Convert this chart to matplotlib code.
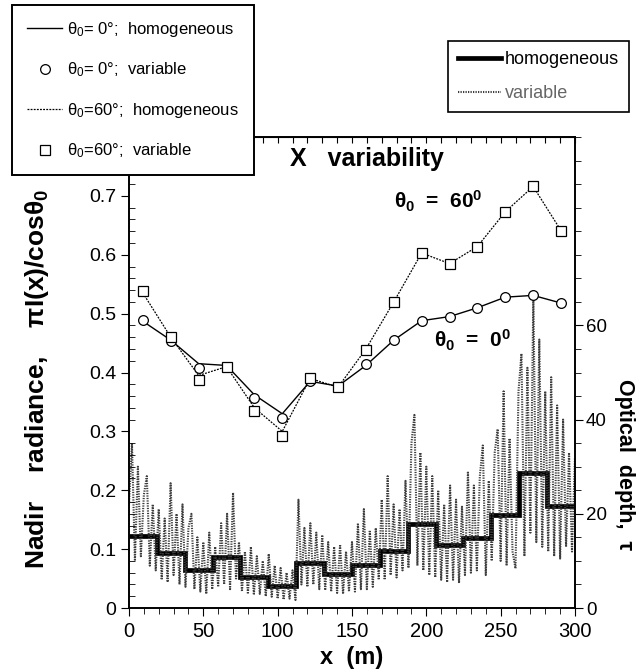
import numpy as np
import matplotlib
matplotlib.use('Agg')
import matplotlib.pyplot as plt

plt.rcParams['font.family'] = ['Liberation Sans', 'DejaVu Sans']
plt.rcParams['mathtext.fontset'] = 'custom'
plt.rcParams['mathtext.rm'] = 'Liberation Sans'
plt.rcParams['mathtext.it'] = 'Liberation Sans:italic'
plt.rcParams['mathtext.bf'] = 'Liberation Sans:bold'

# 16 cells of 18.75 m
x_edges = np.arange(0, 300.1, 18.75)
x_cell = np.arange(9.375, 300, 18.75)

# nadir radiance (left axis)
rad0_var = [0.489, 0.453, 0.407, 0.409, 0.357, 0.323, 0.386, 0.375,
            0.414, 0.455, 0.488, 0.494, 0.509, 0.528, 0.531, 0.518]
rad0_hom = [0.487, 0.455, 0.415, 0.412, 0.362, 0.330, 0.385, 0.377,
            0.412, 0.455, 0.488, 0.495, 0.510, 0.528, 0.531, 0.518]
rad60_var = [0.539, 0.461, 0.388, 0.410, 0.334, 0.293, 0.391, 0.375,
             0.439, 0.520, 0.603, 0.584, 0.614, 0.673, 0.716, 0.641]
rad60_hom = [0.535, 0.460, 0.395, 0.410, 0.340, 0.300, 0.390, 0.375,
             0.440, 0.520, 0.603, 0.585, 0.614, 0.673, 0.716, 0.641]

# optical depth (right axis)
tau_hom = [15.3, 11.6, 8.0, 10.8, 6.5, 4.7, 9.5, 7.2,
           9.2, 12.1, 17.8, 13.4, 14.8, 19.8, 28.6, 21.6]
x_var = np.arange(0, 301, 2)
tau_var = [22, 35, 10, 30, 11, 24, 28, 9, 22, 8,
           21, 6, 19, 5.5, 26.5, 7, 20, 5, 22, 4.5,
           17, 20, 4, 15, 3.5, 14, 3, 16, 4, 13,
           4.5, 18, 5, 20, 4, 24.5, 6, 14, 3.5, 12,
           3, 13, 2.8, 11, 3, 10, 2.5, 11.5, 2.4, 9,
           2, 8.5, 1.8, 7.5, 2, 8, 1.7, 23, 5, 17,
           4.5, 18, 5, 16, 4, 15.5, 3.8, 14, 3.5, 13,
           3.2, 13.5, 3, 12, 3.5, 14, 3.5, 18, 4, 21,
           4, 16.5, 4.5, 17, 6, 23, 6, 28, 7, 22,
           6.5, 21, 8, 27, 8.5, 35, 41, 9, 33, 8,
           30, 7, 28, 6.5, 25, 6, 22, 5.5, 26, 6,
           23, 5.3, 21.5, 7, 29, 7.5, 26, 8, 28, 34.5,
           7, 27, 10, 33, 38, 10, 46, 9, 36, 12,
           8.4, 46, 54, 11, 51, 16, 66, 14, 57, 13,
           46, 12, 49, 11, 43, 10.5, 40, 13, 33, 12,
           32]

fig = plt.figure(figsize=(6.42, 6.70), dpi=100)
ax = fig.add_axes([0.2009, 0.0925, 0.6947, 0.703])
ax2 = ax.twinx()

# optical depth on the right axis
var_line, = ax2.plot(x_var, tau_var, color='#3c3c3c', lw=1.5, ls=(0, (0.6, 0.6)))
hom_step = ax2.stairs(tau_hom, x_edges, color='k', lw=3.4, baseline=None)
ax2.set_ylim(0, 100)
ax2.set_yticks([0, 20, 40, 60])
ax2.set_yticks(np.arange(0, 101, 5), minor=True)
ax2.tick_params(which='major', direction='out', length=6, labelsize=13.5, pad=2)
ax2.tick_params(which='minor', direction='out', length=4)
ax2.set_ylabel('Optical  depth,  τ', fontsize=15.5, fontweight='bold',
               rotation=270, va='center')
ax2.yaxis.set_label_coords(1.11, 0.305)

# radiance on the left axis, drawn above the optical depth
ax.set_zorder(ax2.get_zorder() + 1)
ax.patch.set_visible(False)
l0, = ax.plot(x_cell, rad0_hom, color='k', lw=1.0)
l60, = ax.plot(x_cell, rad60_hom, color='k', lw=0.9, ls=(0, (1.5, 1)))
m0, = ax.plot(x_cell, rad0_var, ls='none', marker='o', ms=7,
              mfc='white', mec='k', mew=0.9)
m60, = ax.plot(x_cell, rad60_var, ls='none', marker='s', ms=7,
               mfc='white', mec='k', mew=0.9)

ax.set_xlim(0, 300)
ax.set_ylim(0, 0.8)
ax.set_xticks(np.arange(0, 301, 50))
ax.set_xticks(np.arange(0, 301, 10), minor=True)
ax.set_yticks(np.arange(0, 0.71, 0.1))
ax.set_yticklabels(['0', '0.1', '0.2', '0.3', '0.4', '0.5', '0.6', '0.7'])
ax.set_yticks(np.arange(0, 0.81, 0.02), minor=True)
ax.tick_params(axis='x', which='major', direction='out', length=6, labelsize=14.5, pad=4)
ax.tick_params(axis='x', which='minor', direction='out', length=4)
ax.tick_params(axis='y', which='major', direction='out', length=6, labelsize=14, pad=3)
ax.tick_params(axis='y', which='minor', direction='in', length=4)
ax.set_xlabel('x  (m)', fontsize=17, fontweight='bold', va='center')
ax.xaxis.set_label_coords(0.5, -0.106)
ax.set_ylabel(r'Nadir    radiance,    πI(x)/cosθ$_\mathbf{0}$', fontsize=19,
              fontweight='bold', va='center')
ax.yaxis.set_label_coords(-0.206, 0.487)

top = ax.secondary_xaxis('top')
top.set_xticks(np.arange(0, 301, 10))
top.tick_params(direction='in', length=4, labeltop=False)
top.set_xticklabels([])

for a in (ax, ax2):
    for s in a.spines.values():
        s.set_linewidth(1.2)

ax.text(160, 0.762, 'X   variability', fontsize=18, fontweight='bold',
        ha='center', va='center')
ax.text(178, 0.69, r'θ$_\mathbf{0}$  =  60$^\mathbf{0}$', fontsize=15,
        fontweight='bold', ha='left', va='center')
ax.text(205, 0.455, r'θ$_\mathbf{0}$  =  0$^\mathbf{0}$', fontsize=15,
        fontweight='bold', ha='left', va='center')

# legend for the radiance curves
leg1 = fig.legend([l0, m0, l60, m60],
                  [r'θ$_0$= 0°;  homogeneous', r'θ$_0$= 0°;  variable',
                   r'θ$_0$=60°;  homogeneous', r'θ$_0$=60°;  variable'],
                  loc='upper left', bbox_to_anchor=(0.0187, 0.9925),
                  borderaxespad=0, fontsize=12, labelspacing=1.3,
                  handlelength=2.1, handletextpad=0.3, borderpad=0.9,
                  fancybox=False, framealpha=1, edgecolor='k')
leg1.get_frame().set_linewidth(1.4)

# legend for the optical depth curves
leg2 = fig.legend([hom_step, var_line], ['homogeneous', 'variable'],
                  loc='upper left', bbox_to_anchor=(0.698, 0.9388),
                  borderaxespad=0, fontsize=13, labelspacing=0.95,
                  handlelength=2.4, handletextpad=0.2, borderpad=0.55,
                  fancybox=False, framealpha=1, edgecolor='k')
leg2.get_frame().set_linewidth(1.2)
leg2.get_texts()[1].set_color('#666666')

fig.savefig('out.png', dpi=100)
